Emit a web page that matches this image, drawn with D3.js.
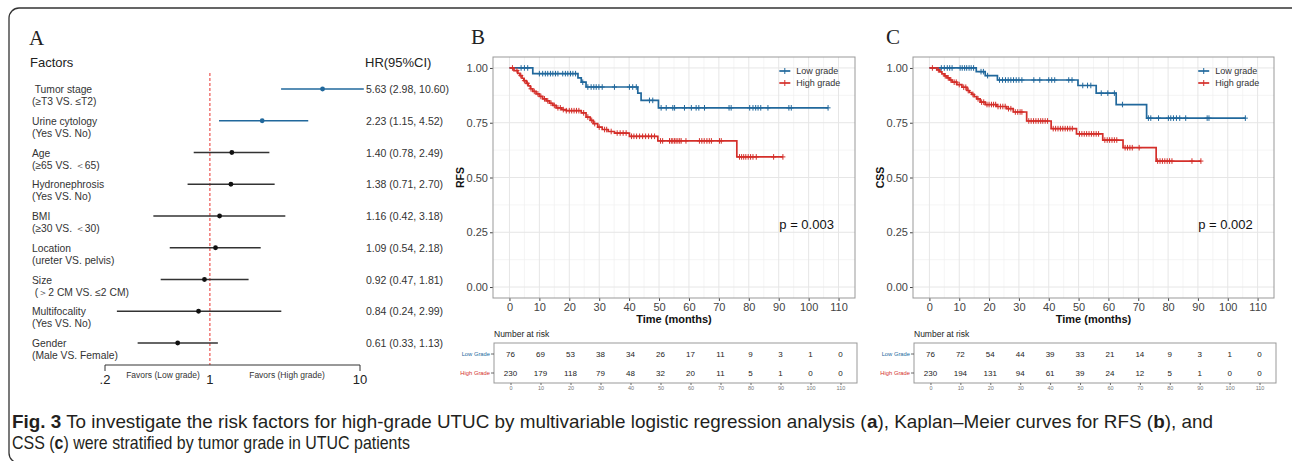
<!DOCTYPE html>
<html>
<head>
<meta charset="utf-8">
<script src="https://d3js.org/d3.v7.min.js"></script>
<style>
body { margin: 0; background: #fff; }
svg { display: block; }
text { font-family: "Liberation Sans", Arial, Helvetica, sans-serif; }
</style>
</head>
<body>
<svg id="chart" width="1292" height="461"></svg>
<script>
// ---- panel A: forest plot data ----
var factors = ["Tumor stage", "Urine cytology", "Age", "Hydronephrosis", "BMI", "Location", "Size", "Multifocality", "Gender"];
var subLabels = ["(≥T3 VS. ≤T2)", "(Yes VS. No)", "(≥65 VS. ＜65)", "(Yes VS. No)", "(≥30 VS. ＜30)", "(ureter VS. pelvis)", " (＞2 CM VS. ≤2 CM)", "(Yes VS. No)", "(Male VS. Female)"];
var hr = [5.63, 2.23, 1.40, 1.38, 1.16, 1.09, 0.92, 0.84, 0.61];
var ciLow = [2.98, 1.15, 0.78, 0.71, 0.42, 0.54, 0.47, 0.24, 0.33];
var ciHigh = [10.60, 4.52, 2.49, 2.70, 3.18, 2.18, 1.81, 2.99, 1.13];
var forestTicks = [0.2, 1, 10];
var forestTickLabels = [".2", "1", "10"];

// ---- panels B/C: Kaplan-Meier data, [time, survival] at each drop ----
var rfsLowSteps = [[0, 1], [7.8, 0.974], [22.9, 0.955], [24, 0.935], [25.6, 0.913], [42.9, 0.885], [44, 0.852], [49.8, 0.818]];
var rfsLowCensor = [3.9, 5, 6.1, 10, 11.1, 12, 12.8, 13.7, 14.5, 15.4, 16.2, 17.8, 18.7, 19.5, 20.4, 21.2, 22.1, 24.5, 26.2, 27.3, 28.2, 29, 29.9, 31, 35.1, 40.1, 41.2, 42.4, 46.8, 47.9, 50.7, 52.4, 54.6, 55.2, 58.5, 60.8, 62.4, 63.3, 65.2, 73.4, 74.1, 80.3, 81.4, 82.3, 83.1, 84, 86.4, 93.4, 94.2, 106.5];
var rfsHighSteps = [[0, 1], [1.5, 0.988], [2.8, 0.975], [3.5, 0.965], [4.2, 0.953], [4.8, 0.942], [5.6, 0.93], [6.3, 0.918], [7, 0.905], [7.8, 0.893], [8.9, 0.882], [10, 0.87], [11.1, 0.859], [12.3, 0.85], [13.4, 0.839], [14.5, 0.829], [15.6, 0.818], [17.5, 0.81], [19, 0.805], [24, 0.795], [25.6, 0.776], [27, 0.761], [28, 0.746], [29.5, 0.73], [31, 0.719], [33, 0.71], [35.1, 0.703], [40.1, 0.688], [49.6, 0.667], [76, 0.594]];
var rfsHighCensor = [1, 2.5, 3.8, 5, 6, 7.2, 8.3, 9.5, 10.5, 11.7, 12.8, 13.9, 15, 16.2, 17, 18, 19, 20, 20.8, 21.6, 22.4, 23.2, 24.8, 26.2, 27.5, 28.5, 30, 31.8, 32.5, 34, 36, 37, 38, 39, 40.8, 41.6, 42.5, 43.5, 44.5, 45.5, 46.5, 47.5, 48.5, 50.5, 51.2, 53.5, 54.1, 54.6, 55.2, 55.7, 56.3, 56.9, 57.4, 59, 63.5, 64.3, 65.1, 66, 66.8, 67.5, 70.2, 70.8, 76.9, 77.6, 78.3, 79, 79.8, 80.6, 81.4, 82.5, 88.3, 91.4];

var cssLowSteps = [[0, 1], [15.7, 0.983], [18.7, 0.965], [22.8, 0.945], [49.8, 0.92], [55.9, 0.885], [62.6, 0.833], [72.8, 0.771]];
var cssLowCensor = [4, 5, 6, 6.8, 7.6, 10.3, 11, 11.8, 12.5, 13.3, 14, 14.8, 17.3, 18.1, 19.5, 23.5, 24.5, 25.5, 26.4, 27.3, 28.2, 29.1, 30, 31, 35, 37, 40, 41, 42, 46.7, 47.8, 51.4, 53, 54.1, 57.6, 59.8, 62, 64.7, 73.4, 74.2, 76.8, 80.1, 80.9, 81.8, 82.8, 83.9, 85.9, 93.1, 93.7, 105.9];
var cssHighSteps = [[0, 1], [2.5, 0.991], [3.5, 0.982], [4.2, 0.973], [5, 0.964], [5.9, 0.955], [6.8, 0.945], [7.6, 0.935], [9.2, 0.924], [10.9, 0.912], [12.6, 0.897], [13.4, 0.888], [14.2, 0.879], [15, 0.869], [15.9, 0.859], [17, 0.844], [18.7, 0.833], [22.6, 0.824], [25.9, 0.814], [28.1, 0.799], [32.6, 0.758], [40.8, 0.723], [49.3, 0.699], [58.1, 0.671], [64.9, 0.636], [76, 0.575]];
var cssHighCensor = [1, 3, 5.3, 6.3, 7.2, 8.3, 9, 10, 11.5, 12.2, 13, 14.6, 16.3, 17.5, 18.2, 19.3, 20, 20.8, 21.5, 22.2, 23, 23.8, 24.6, 25.4, 26.5, 27.3, 28.8, 29.6, 30.4, 31, 33.3, 34.1, 34.9, 35.7, 36.5, 37.3, 38, 38.8, 39.6, 41.5, 42.3, 43.1, 43.9, 44.7, 45.5, 46.3, 47.1, 47.9, 50.3, 51.1, 51.9, 52.7, 53.5, 54.3, 55.1, 55.9, 56.7, 58.8, 59.6, 60.4, 61.2, 62, 62.8, 65.6, 66.4, 67.2, 68, 70.3, 76.5, 77.3, 78.1, 78.9, 79.7, 80.5, 81.3, 88, 91];

var riskTimes = [0, 10, 20, 30, 40, 50, 60, 70, 80, 90, 100, 110];
var rfsRiskLow = [76, 69, 53, 38, 34, 26, 17, 11, 9, 3, 1, 0];
var rfsRiskHigh = [230, 179, 118, 79, 48, 32, 20, 11, 5, 1, 0, 0];
var cssRiskLow = [76, 72, 54, 44, 39, 33, 21, 14, 9, 3, 1, 0];
var cssRiskHigh = [230, 194, 131, 94, 61, 39, 24, 12, 5, 1, 0, 0];
var survTicks = [0, 0.25, 0.5, 0.75, 1];
var survTickLabels = ["0.00", "0.25", "0.50", "0.75", "1.00"];
var groupNames = ["Low grade", "High grade"];
var riskNames = ["Low Grade", "High Grade"];

// caption pieces: [text, bold]
var captionLine1 = [["Fig. 3", true], [" To investigate the risk factors for high-grade UTUC by multivariable logistic regression analysis (", false], ["a", true], ["), Kaplan–Meier curves for RFS (", false], ["b", true], ["), and", false]];
var captionLine2 = [["CSS (", false], ["c", true], [") were stratified by tumor grade in UTUC patients", false]];

var blue = "#21689c";
var red = "#d42f2a";

var svg = d3.select("#chart");

// outer frame
svg.append("rect")
    .attr("x", 9).attr("y", 8)
    .attr("width", 1300).attr("height", 455)
    .attr("rx", 10)
    .attr("fill", "none")
    .attr("stroke", "#333")
    .attr("stroke-width", 1.3);

// ================= panel A =================
var fx = d3.scaleLog().domain([0.2, 10]).range([105, 360]);
var fy = d3.scaleLinear().domain([0, factors.length - 1]).range([89, 343]);

svg.append("text").attr("x", 29).attr("y", 45)
    .style("font-family", "'Liberation Serif', 'DejaVu Serif', serif")
    .style("font-size", "21px").attr("fill", "#222").text("A");
svg.append("text").attr("x", 30).attr("y", 67).style("font-size", "13px").attr("fill", "#222").text("Factors");
svg.append("text").attr("x", 365).attr("y", 67).style("font-size", "13px").attr("fill", "#222").text("HR(95%CI)");

svg.append("line")
    .attr("x1", fx(1)).attr("x2", fx(1))
    .attr("y1", 73).attr("y2", 365)
    .attr("stroke", "#e8312d").attr("stroke-width", 1)
    .attr("stroke-dasharray", "3,2");

var rows = svg.append("g").selectAll("g")
    .data(factors)
    .enter().append("g");

rows.append("text")
    .attr("x", 32).attr("y", function(d, i) { return fy(i) + 4; })
    .style("font-size", "10.3px").style("white-space", "pre").attr("fill", "#333")
    .text(function(d, i) { return i == 0 ? " " + d : d; });
rows.append("text")
    .attr("x", 32).attr("y", function(d, i) { return fy(i) + 16; })
    .style("font-size", "10.3px").style("white-space", "pre").attr("fill", "#333")
    .text(function(d, i) { return subLabels[i]; });

rows.append("line")
    .attr("x1", function(d, i) { return fx(ciLow[i]); })
    .attr("x2", function(d, i) { return fx(ciHigh[i]); })
    .attr("y1", function(d, i) { return fy(i); })
    .attr("y2", function(d, i) { return fy(i); })
    .attr("stroke", function(d, i) { return ciLow[i] > 1 ? blue : "#333"; })
    .attr("stroke-width", 1.6);
rows.append("circle")
    .attr("cx", function(d, i) { return fx(hr[i]); })
    .attr("cy", function(d, i) { return fy(i); })
    .attr("r", 2.4)
    .attr("fill", function(d, i) { return ciLow[i] > 1 ? blue : "#111"; });
rows.append("text")
    .attr("x", 366).attr("y", function(d, i) { return fy(i) + 4; })
    .style("font-size", "10.5px").attr("fill", "#333")
    .text(function(d, i) { return hr[i].toFixed(2) + " (" + ciLow[i].toFixed(2) + ", " + ciHigh[i].toFixed(2) + ")"; });

// forest axis (bracket)
svg.append("path")
    .attr("d", "M" + fx(0.2) + ",371V365H" + fx(10) + "V371")
    .attr("fill", "none").attr("stroke", "#333").attr("stroke-width", 1);
svg.append("g").selectAll("text")
    .data(forestTicks)
    .enter().append("text")
    .attr("x", function(d) { return fx(d); })
    .attr("y", 384)
    .attr("text-anchor", "middle")
    .style("font-size", "13px").attr("fill", "#222")
    .text(function(d, i) { return forestTickLabels[i]; });
svg.append("text").attr("x", 163).attr("y", 378).attr("text-anchor", "middle")
    .style("font-size", "8.5px").attr("fill", "#333").text("Favors (Low grade)");
svg.append("text").attr("x", 287).attr("y", 378).attr("text-anchor", "middle")
    .style("font-size", "8.5px").attr("fill", "#333").text("Favors (High grade)");

// ================= panels B and C =================
function survAt(steps, t) {
  var s = steps[0][1];
  for (var i = 0; i < steps.length; i++) {
    if (steps[i][0] <= t) s = steps[i][1];
  }
  return s;
}

function drawKM(opt) {
  var g = svg.append("g");
  var left = opt.left, right = opt.right, top = 57, bottom = 298;
  var x = d3.scaleLinear().domain([-5.5, 115.5]).range([left, right]);
  var y = d3.scaleLinear().domain([-0.05, 1.05]).range([bottom, top]);

  g.append("text").attr("x", opt.letterX).attr("y", 44)
      .style("font-family", "'Liberation Serif', 'DejaVu Serif', serif")
      .style("font-size", "21px").attr("fill", "#222").text(opt.letter);

  // grid
  var minorX = d3.range(5, 115, 10);
  var minorY = [0.125, 0.375, 0.625, 0.875];
  g.append("g").selectAll("line").data(minorX).enter().append("line")
      .attr("x1", function(d) { return x(d); }).attr("x2", function(d) { return x(d); })
      .attr("y1", top).attr("y2", bottom)
      .attr("stroke", "#f1f1f1").attr("stroke-width", 0.7);
  g.append("g").selectAll("line").data(minorY).enter().append("line")
      .attr("y1", function(d) { return y(d); }).attr("y2", function(d) { return y(d); })
      .attr("x1", left).attr("x2", right)
      .attr("stroke", "#f1f1f1").attr("stroke-width", 0.7);
  g.append("g").selectAll("line").data(riskTimes).enter().append("line")
      .attr("x1", function(d) { return x(d); }).attr("x2", function(d) { return x(d); })
      .attr("y1", top).attr("y2", bottom)
      .attr("stroke", "#e6e6e6").attr("stroke-width", 1);
  g.append("g").selectAll("line").data(survTicks).enter().append("line")
      .attr("y1", function(d) { return y(d); }).attr("y2", function(d) { return y(d); })
      .attr("x1", left).attr("x2", right)
      .attr("stroke", "#e6e6e6").attr("stroke-width", 1);

  // axes
  var xAxis = d3.axisBottom(x).tickValues(riskTimes).tickSize(3).tickPadding(2);
  var yAxis = d3.axisLeft(y).tickValues(survTicks).tickSize(3).tickPadding(2)
      .tickFormat(function(d, i) { return survTickLabels[i]; });
  var gx = g.append("g").attr("transform", "translate(0," + bottom + ")").call(xAxis);
  var gy = g.append("g").attr("transform", "translate(" + left + ",0)").call(yAxis);
  [gx, gy].forEach(function(a) {
    a.select(".domain").remove();
    a.selectAll("line").attr("stroke", "#444");
    a.selectAll("text").style("font-size", "11px").attr("fill", "#444")
        .style("font-family", "'Liberation Sans', Arial, sans-serif");
  });

  g.append("rect").attr("x", left).attr("y", top)
      .attr("width", right - left).attr("height", bottom - top)
      .attr("fill", "none").attr("stroke", "#999").attr("stroke-width", 1);

  g.append("text")
      .attr("transform", "translate(" + (left - 29) + "," + ((top + bottom) / 2) + ") rotate(-90)")
      .attr("text-anchor", "middle")
      .style("font-size", "10.5px").style("font-weight", "bold").attr("fill", "#111")
      .text(opt.yTitle);
  g.append("text").attr("x", (left + right) / 2).attr("y", 323)
      .attr("text-anchor", "middle")
      .style("font-size", "11px").style("font-weight", "bold").attr("fill", "#111")
      .text("Time (months)");

  // curves
  var line = d3.line()
      .x(function(d) { return x(d[0]); })
      .y(function(d) { return y(d[1]); })
      .curve(d3.curveStepAfter);

  var series = [
    { steps: opt.lowSteps, cens: opt.lowCens, color: blue },
    { steps: opt.highSteps, cens: opt.highCens, color: red }
  ];
  series.forEach(function(s) {
    var end = d3.max(s.cens);
    var pts = s.steps.concat([[end, s.steps[s.steps.length - 1][1]]]);
    g.append("path").datum(pts)
        .attr("d", line)
        .attr("fill", "none").attr("stroke", s.color).attr("stroke-width", 1.7);
    var marks = g.append("g").selectAll("g").data(s.cens).enter().append("g")
        .attr("transform", function(d) { return "translate(" + x(d) + "," + y(survAt(s.steps, d)) + ")"; });
    marks.append("line").attr("x1", 0).attr("x2", 0).attr("y1", -2.8).attr("y2", 2.8)
        .attr("stroke", s.color).attr("stroke-width", 1);
    marks.append("line").attr("x1", -2.5).attr("x2", 2.5).attr("y1", 0).attr("y2", 0)
        .attr("stroke", s.color).attr("stroke-width", 1);
  });

  // legend
  var lx = x(opt.legendT);
  groupNames.forEach(function(name, i) {
    var ly = 71 + i * 12;
    var c = i == 0 ? blue : red;
    g.append("line").attr("x1", lx).attr("x2", lx + 11).attr("y1", ly).attr("y2", ly)
        .attr("stroke", c).attr("stroke-width", 1.7);
    g.append("line").attr("x1", lx + 5.5).attr("x2", lx + 5.5).attr("y1", ly - 3).attr("y2", ly + 3)
        .attr("stroke", c).attr("stroke-width", 1);
    g.append("text").attr("x", lx + 17).attr("y", ly + 3.2)
        .style("font-size", "9px").attr("fill", "#333").text(name);
  });

  g.append("text").attr("x", lx).attr("y", 229)
      .style("font-size", "13px").attr("fill", "#111").text(opt.pText);

  // risk table
  var tLeft = left + 1, tRight = right + 2, tTop = 343, tBottom = 383;
  var tx = d3.scaleLinear().domain([-5.5, 115.5]).range([tLeft, tRight]);
  g.append("text").attr("x", tLeft).attr("y", 337)
      .style("font-size", "8.5px").attr("fill", "#222").text("Number at risk");
  g.append("rect").attr("x", tLeft).attr("y", tTop)
      .attr("width", tRight - tLeft).attr("height", tBottom - tTop)
      .attr("fill", "none").attr("stroke", "#999").attr("stroke-width", 1);
  var rowY = [354, 373];
  var riskRows = [opt.riskLow, opt.riskHigh];
  riskRows.forEach(function(vals, r) {
    g.append("g").selectAll("text").data(vals).enter().append("text")
        .attr("x", function(d, i) { return tx(riskTimes[i]); })
        .attr("y", rowY[r] + 3)
        .attr("text-anchor", "middle")
        .style("font-size", "8px").attr("fill", "#222")
        .text(function(d) { return d; });
    g.append("text").attr("x", tLeft - 4).attr("y", rowY[r] + 2)
        .attr("text-anchor", "end")
        .style("font-size", "5.8px").attr("fill", r == 0 ? blue : red)
        .text(riskNames[r]);
    g.append("line").attr("x1", tLeft - 3).attr("x2", tLeft).attr("y1", rowY[r]).attr("y2", rowY[r])
        .attr("stroke", "#444").attr("stroke-width", 0.8);
  });
  var tAxis = d3.axisBottom(tx).tickValues(riskTimes).tickSize(2).tickPadding(1.5);
  var gt = g.append("g").attr("transform", "translate(0," + tBottom + ")").call(tAxis);
  gt.select(".domain").remove();
  gt.selectAll("line").attr("stroke", "#666");
  gt.selectAll("text").style("font-size", "5.5px").attr("fill", "#777")
      .style("font-family", "'Liberation Sans', Arial, sans-serif");
}

drawKM({
  letter: "B", letterX: 471, left: 493, right: 855, yTitle: "RFS",
  lowSteps: rfsLowSteps, lowCens: rfsLowCensor,
  highSteps: rfsHighSteps, highCens: rfsHighCensor,
  riskLow: rfsRiskLow, riskHigh: rfsRiskHigh,
  legendT: 90.2, pText: "p = 0.003"
});
drawKM({
  letter: "C", letterX: 886, left: 913, right: 1274, yTitle: "CSS",
  lowSteps: cssLowSteps, lowCens: cssLowCensor,
  highSteps: cssHighSteps, highCens: cssHighCensor,
  riskLow: cssRiskLow, riskHigh: cssRiskHigh,
  legendT: 90.1, pText: "p = 0.002"
});

// ================= caption =================
// each line is laid out piece by piece, then squeezed horizontally to the reference width
function captionLine(pieces, yPos, width) {
  var g = svg.append("g");
  var cx = 0;
  pieces.forEach(function(p) {
    var t = g.append("text")
        .attr("x", cx).attr("y", 0)
        .style("font-family", "'Liberation Sans', Arial, sans-serif")
        .style("font-size", "18px")
        .style("font-weight", p[1] ? "bold" : "normal")
        .style("white-space", "pre")
        .attr("fill", "#231f20")
        .text(p[0]);
    cx += t.node().getComputedTextLength();
  });
  g.attr("transform", "translate(12," + yPos + ") scale(" + (width / cx) + ",1)");
}
captionLine(captionLine1, 428, 1201);
captionLine(captionLine2, 449, 398);
</script>
</body>
</html>
